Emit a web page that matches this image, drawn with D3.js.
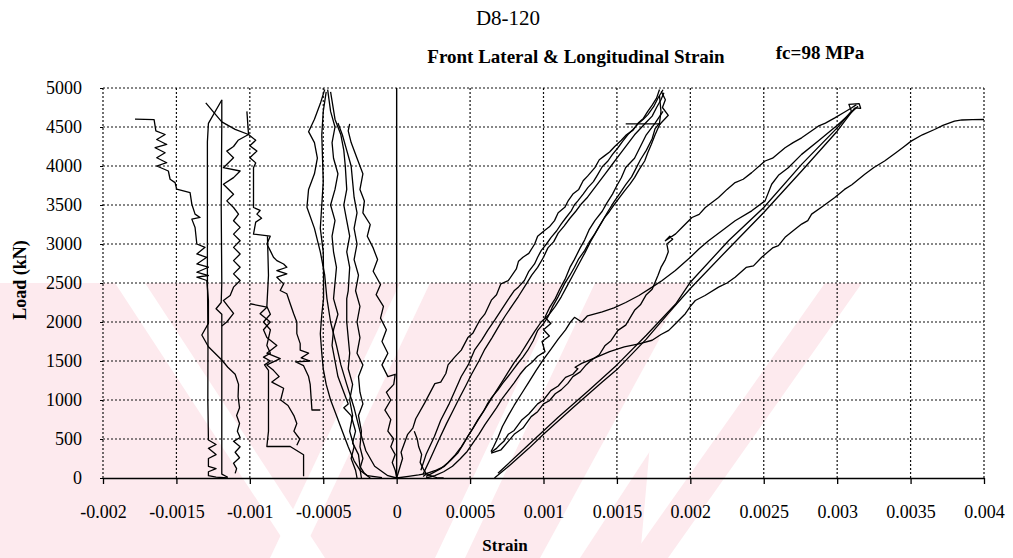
<!DOCTYPE html>
<html><head><meta charset="utf-8">
<script src="https://cdn.jsdelivr.net/npm/d3@7"></script>
<style>body{margin:0;background:#fff}svg{display:block}</style>
</head><body><svg id="c" width="1013" height="558"></svg>
<script>
// ---- axis ticks ----
const xTickValues = [-0.002,-0.0015,-0.001,-0.0005,0,0.0005,0.001,0.0015,0.002,0.0025,0.003,0.0035,0.004];
const xTickLabels = ["-0.002","-0.0015","-0.001","-0.0005","0","0.0005","0.001","0.0015","0.002","0.0025","0.003","0.0035","0.004"];
const yTickValues = [0,500,1000,1500,2000,2500,3000,3500,4000,4500,5000];

// ---- lateral strain traces: [microstrain, load kN] ----
const lat1 = [[-1782,4600],[-1652,4595],[-1640,4450],[-1577,4404],[-1634,4340],[-1566,4276],[-1645,4234],[-1577,4170],[-1634,4106],[-1566,4042],[-1634,4000],[-1555,3936],[-1543,3830],[-1509,3787],[-1498,3702],[-1407,3659],[-1395,3510],[-1373,3383],[-1339,3340],[-1395,3319],[-1373,3212],[-1361,3000],[-1305,2957],[-1361,2872],[-1293,2830],[-1361,2744],[-1282,2702],[-1361,2638],[-1282,2596],[-1361,2574],[-1293,2532],[-1282,2276],[-1282,1983],[-1327,1833],[-1282,1683],[-1191,1513],[-1150,1420],[-1100,1330],[-1077,1200],[-1080,1042],[-1070,900],[-1090,800],[-1070,700],[-1085,600],[-1066,520],[-1111,470],[-1066,400],[-1100,330],[-1070,260],[-1111,190],[-1090,120],[-1100,60]];
const lat2 = [[-1191,4850],[-1191,4560],[-1195,3500],[-1191,2500],[-1195,2250],[-1230,2170],[-1191,2100],[-1191,1513],[-1191,1000],[-1191,300],[-1191,50],[-1150,10]];
const lat3 = [[-1300,4810],[-1191,4566],[-1100,4470],[-1009,4404],[-1080,4330],[-1111,4250],[-1157,4191],[-1111,4106],[-1180,3978],[-1066,3936],[-1111,3851],[-1180,3766],[-1111,3638],[-1157,3553],[-1111,3468],[-1077,3383],[-1111,3298],[-1066,3213],[-1111,3127],[-1066,3042],[-1111,2957],[-1066,2872],[-1111,2787],[-1066,2702],[-1111,2617],[-1066,2532],[-1111,2447],[-1134,2340],[-1180,2276],[-1111,2110],[-1157,2000],[-1191,1950]];
const lat4 = [[-1191,4846],[-1282,4547],[-1289,4311],[-1289,2600],[-1285,1800],[-1286,1000],[-1282,487],[-1230,430],[-1282,380],[-1230,300],[-1282,250],[-1282,150],[-1230,120],[-1282,80],[-1282,30],[-1230,10],[-1150,0]];
const lat5 = [[-1020,4700],[-1009,4404],[-960,4330],[-1000,4260],[-952,4191],[-1000,4106],[-960,4040],[-975,3978],[-975,3600],[-975,3468],[-930,3430],[-952,3383],[-920,3330],[-960,3280],[-975,3127],[-861,3100],[-884,3000],[-861,2915],[-839,2830],[-816,2787],[-770,2744],[-748,2702],[-816,2660],[-748,2617],[-816,2574],[-770,2489],[-793,2404],[-748,2362],[-725,2234],[-702,2110],[-680,2000],[-680,1851],[-657,1723],[-657,1640],[-600,1600],[-650,1540],[-589,1500],[-690,1490],[-634,1440],[-600,1300],[-589,1200],[-577,872],[-520,872]];
const lat6 = [[-880,3100],[-873,2600],[-884,2200],[-860,2100],[-907,2000],[-860,1900],[-884,1700],[-860,1600],[-907,1550],[-860,1500],[-900,1450],[-873,1380],[-873,1000],[-873,600],[-884,404],[-725,404],[-634,298],[-634,21]];
const lat7 = [[-998,2234],[-884,2190],[-930,2106],[-861,2000],[-907,1900],[-884,1800],[-816,1700],[-884,1600],[-793,1530],[-884,1450],[-839,1380],[-800,1300],[-850,1230],[-770,1150],[-790,1000],[-740,930],[-700,800],[-680,700],[-700,600],[-660,500],[-680,420]];
const lat8 = [[-490,4980],[-520,4800],[-560,4600],[-600,4440],[-560,4300],[-540,4100],[-560,3900],[-600,3700],[-611,3470],[-560,3200],[-520,2900],[-490,2600],[-475,2300],[-450,2000],[-410,1700],[-380,1450],[-340,1200],[-290,900],[-250,600],[-210,350],[-150,150],[-60,30],[0,0]];
const lat9 = [[-480,4950],[-500,4700],[-510,4400],[-505,4100],[-500,3800],[-510,3500],[-520,3200],[-500,2900],[-498,2600],[-498,2300],[-510,2100],[-520,1850],[-510,1600],[-500,1400],[-480,1200],[-450,1000],[-410,800],[-370,600],[-330,400],[-290,220],[-250,100],[-200,30],[-100,5]];
const lat10 = [[-470,4980],[-450,4700],[-420,4500],[-440,4300],[-430,4100],[-400,3900],[-420,3700],[-450,3500],[-420,3300],[-440,3100],[-430,2900],[-410,2700],[-420,2500],[-430,2300],[-400,2100],[-430,1900],[-440,1700],[-420,1500],[-400,1300],[-360,1100],[-330,950],[-360,900],[-310,800],[-280,600],[-300,450],[-260,300],[-250,150],[-220,60],[-180,0]];
const lat11 = [[-450,4950],[-420,4600],[-380,4400],[-360,4200],[-350,4000],[-340,3700],[-360,3500],[-340,3300],[-320,3100],[-340,2900],[-320,2700],[-330,2400],[-340,2300],[-340,2000],[-330,1800],[-320,1600],[-330,1400],[-300,1200],[-320,1000],[-300,800],[-320,600],[-290,400],[-310,250],[-280,100],[-270,0]];
const lat12 = [[-400,4550],[-370,4400],[-340,4200],[-310,4000],[-300,3800],[-290,3600],[-270,3400],[-290,3200],[-270,3000],[-290,2800],[-260,2600],[-280,2400],[-250,2200],[-270,2000],[-250,1800],[-270,1600],[-230,1450],[-260,1300],[-250,1100],[-230,950],[-260,800],[-240,600],[-250,400],[-230,250],[-250,120],[-240,0]];
const lat13 = [[-320,4540],[-330,4450],[-310,4300],[-270,4100],[-230,3900],[-250,3700],[-220,3550],[-230,3400],[-180,3250],[-200,3100],[-160,2950],[-130,2800],[-160,2650],[-110,2480],[-140,2350],[-90,2200],[-110,2050],[-70,1900],[-100,1750],[-60,1600],[-100,1450],[-60,1300],[-10,1330],[-20,1200],[-70,1100],[-40,1000],[-80,870],[-40,750],[-60,600],[-20,500],[-40,400],[-10,300],[-30,200],[-10,100],[0,0]];

// ---- longitudinal strain traces: [microstrain, load kN] ----
const lon1 = [[0,0],[40,250],[30,330],[75,560],[110,640],[130,760],[190,960],[215,1050],[260,1210],[300,1230],[335,1340],[350,1450],[395,1550],[440,1640],[485,1800],[520,1860],[565,2020],[600,2100],[645,2280],[680,2350],[710,2490],[760,2530],[815,2680],[830,2780],[860,2830],[900,2880],[940,3000],[960,3100],[1005,3170],[1040,3220],[1075,3300],[1100,3400],[1145,3470],[1170,3560],[1200,3640],[1240,3700],[1270,3810],[1300,3870],[1350,3980],[1380,4080],[1415,4130],[1450,4180],[1485,4250],[1530,4330],[1565,4400],[1610,4460],[1645,4550],[1680,4610],[1710,4700],[1740,4780],[1770,4870],[1790,4980]];
const lon2 = [[165,100],[200,300],[257,532],[300,740],[359,957],[400,1130],[439,1298],[490,1460],[530,1638],[580,1770],[620,1893],[670,2030],[711,2149],[760,2290],[802,2404],[830,2450],[870,2532],[900,2650],[939,2744],[960,2830],[984,2915],[1020,3000],[1052,3085],[1090,3170],[1120,3255],[1150,3330],[1189,3425],[1210,3500],[1234,3553],[1270,3640],[1302,3723],[1340,3800],[1370,3893],[1400,3990],[1439,4064],[1470,4150],[1507,4234],[1540,4320],[1575,4404],[1610,4470],[1643,4540],[1680,4600],[1711,4659],[1750,4760],[1780,4872],[1814,4978]];
const lon3 = [[180,50],[230,250],[290,500],[340,700],[380,850],[420,1000],[470,1180],[510,1330],[560,1500],[600,1650],[650,1800],[700,1960],[740,2080],[790,2220],[830,2330],[880,2480],[920,2600],[960,2700],[1000,2830],[1030,2950],[1070,3030],[1100,3140],[1140,3230],[1180,3330],[1220,3420],[1260,3520],[1300,3600],[1340,3700],[1380,3800],[1420,3900],[1460,4000],[1500,4100],[1540,4200],[1580,4300],[1620,4400],[1660,4480],[1700,4560],[1740,4640],[1770,4750],[1800,4850],[1820,4940]];
const lon4 = [[1802,4957],[1830,4850],[1810,4750],[1850,4650],[1791,4532],[1760,4400],[1734,4276],[1710,4170],[1689,4064],[1650,3950],[1620,3851],[1590,3770],[1552,3681],[1520,3600],[1484,3510],[1450,3420],[1416,3340],[1380,3230],[1348,3127],[1310,3020],[1280,2915],[1240,2810],[1211,2702],[1180,2600],[1143,2489],[1120,2400],[1098,2319],[1060,2190],[1030,2064],[1000,1980],[961,1893],[930,1760],[893,1638],[860,1550],[825,1468],[790,1380],[757,1298],[720,1210],[689,1128],[650,1040],[620,957],[590,850],[552,745],[520,640],[484,532],[450,420],[416,319],[370,230],[325,149],[270,100],[211,64],[180,20]];
const lon5 = [[1790,4900],[1800,4700],[1790,4550],[1760,4480],[1740,4350],[1700,4200],[1660,4080],[1630,3970],[1600,3860],[1560,3760],[1520,3650],[1480,3540],[1440,3420],[1400,3290],[1360,3160],[1320,3030],[1280,2880],[1240,2740],[1200,2600],[1160,2460],[1120,2320],[1080,2200],[1040,2100],[984,2000],[940,1880],[900,1760],[880,1700],[840,1580],[800,1480],[760,1360],[720,1240],[680,1120],[640,1000],[600,880],[560,760],[520,640],[480,520],[440,400],[400,300],[350,200],[300,120],[240,60],[200,20]];
const lon6 = [[1814,4700],[1760,4550],[1700,4400],[1660,4250],[1620,4100],[1560,3980],[1530,3850],[1500,3750],[1470,3640],[1430,3520],[1400,3420],[1350,3300],[1310,3180],[1280,3050],[1250,2950],[1210,2800],[1180,2700],[1150,2560],[1110,2420],[1080,2300],[1040,2180],[1010,2060],[1050,1980],[1000,1900],[1040,1820],[990,1750],[1010,1620],[960,1560],[920,1480],[880,1420],[840,1330],[800,1220],[760,1120],[720,1020],[680,900],[640,790],[600,680],[560,560],[520,450],[480,340],[430,240],[380,150],[320,80],[260,30],[200,0]];
const lon7 = [[643,319],[711,362],[760,470],[800,560],[860,640],[916,787],[960,850],[1000,950],[1040,990],[1080,1080],[1120,1130],[1166,1213],[1200,1300],[1250,1360],[1290,1450],[1325,1510],[1380,1580],[1420,1700],[1460,1760],[1507,1893],[1560,1960],[1620,2150],[1660,2220],[1700,2350],[1740,2420],[1780,2600],[1800,2700],[1830,2800],[1850,2900],[1840,3000],[1880,3060],[1860,3100],[1830,3042],[1900,3130],[1943,3212],[2011,3340],[2060,3380],[2102,3468],[2192,3595],[2250,3700],[2305,3787],[2360,3830],[2418,3915],[2509,4064],[2560,4100],[2645,4234],[2700,4300],[2758,4361],[2871,4510],[2920,4550],[2984,4617],[3040,4680],[3097,4744],[3131,4787]];
const lon8 = [[3142,4766],[3007,4532],[2871,4319],[2758,4149],[2667,3978],[2600,3880],[2554,3766],[2509,3553],[2418,3425],[2305,3298],[2215,3170],[2124,3042],[2060,2940],[2000,2830],[1898,2659],[1808,2532],[1740,2447],[1650,2340],[1560,2250],[1480,2180],[1400,2130],[1300,2080],[1260,2000],[1211,2060],[1180,1990],[1150,1900],[1100,1780],[1050,1650],[1000,1520],[950,1380],[900,1230],[850,1080],[800,930],[760,800],[720,660],[690,520],[660,400],[643,340]];
const lon9 = [[666,0],[750,130],[900,380],[1000,560],[1200,900],[1400,1230],[1500,1390],[1700,1780],[1850,2110],[2000,2430],[2260,2940],[2500,3404],[2758,3936],[3000,4446],[3120,4744]];
const lon10 = [[690,60],[900,430],[1100,780],[1300,1110],[1500,1450],[1700,1830],[1900,2230],[2000,2510],[2260,3042],[2500,3468],[2758,4021],[3000,4489],[3097,4702],[3080,4790],[3150,4800],[3160,4740],[3120,4744]];
const lon11 = [[643,330],[680,380],[700,420],[730,470],[760,560],[800,610],[850,740],[900,820],[960,950],[1000,1000],[1050,1120],[1100,1180],[1150,1290],[1200,1330],[1234,1400],[1215,1420],[1260,1470],[1350,1540],[1450,1620],[1550,1680],[1650,1720],[1740,1766],[1800,1840],[1853,1893],[1900,1980],[1966,2106],[2000,2200],[2034,2276],[2100,2340],[2192,2447],[2250,2500],[2305,2574],[2380,2700],[2430,2720],[2486,2830],[2560,2950],[2600,2980],[2645,3085],[2700,3170],[2758,3255],[2800,3300],[2826,3383],[2900,3480],[2984,3595],[3050,3700],[3100,3760],[3188,3893],[3250,3980],[3323,4064],[3400,4170],[3450,4240],[3504,4319],[3580,4400],[3663,4468],[3720,4520],[3799,4574],[3850,4590],[3920,4594],[4000,4596]];
const lon12 = [[120,600],[140,500],[150,400],[170,300],[160,200],[180,120],[200,60],[230,30],[280,0],[320,0]];
const lon13 = [[0,0],[80,20],[150,40],[210,60]];
const lon14 = [[1560,4540],[1800,4540]];

const lateral = [lat1,lat2,lat3,lat4,lat5,lat6,lat7,lat8,lat9,lat10,lat11,lat12,lat13];
const longitudinal = [lon1,lon2,lon3,lon4,lon5,lon6,lon7,lon8,lon9,lon10,lon11,lon12,lon13,lon14];

// ---- drawing ----
const svg = d3.select("#c");
const serif = "'Liberation Serif','Times New Roman',serif";
const x = d3.scaleLinear().domain([-0.002,0.004]).range([103,984]);
const y = d3.scaleLinear().domain([0,5000]).range([478,88]);

// faint background watermark (scan artefact)
const wm = svg.append("g");
wm.append("polygon").attr("points","0,283 690,283 660,330 640,558 0,558").attr("fill","#fdeaee");
[[115,283,145,283,325,558,295,558],[400,283,430,283,300,558,270,558],[565,283,595,283,465,558,435,558],[690,283,760,283,580,558,540,558]]
  .forEach(p=>wm.append("polygon").attr("points",p.join(",")).attr("fill","#fff"));
wm.append("polygon").attr("points","825,283 862,283 668,558 631,558").attr("fill","#fdeaee");

const grid = svg.append("g").attr("stroke","#111").attr("stroke-width",1.2).attr("stroke-dasharray","2,2");
xTickValues.filter(v=>v!==0).forEach(v=>{
  grid.append("line").attr("x1",x(v)).attr("x2",x(v)).attr("y1",y(0)).attr("y2",y(5000));
});
yTickValues.filter(v=>v>0).forEach(v=>{
  grid.append("line").attr("x1",x(-0.002)).attr("x2",x(0.004)).attr("y1",y(v)).attr("y2",y(v));
});
// zero strain line
svg.append("line").attr("x1",x(0)).attr("x2",x(0)).attr("y1",y(0)).attr("y2",y(5000))
  .attr("stroke","#000").attr("stroke-width",1.4);

const line = d3.line().x(d=>x(d[0]*1e-6)).y(d=>y(d[1]));
const traces = svg.append("g").attr("fill","none").attr("stroke","#000").attr("stroke-width",1.3).attr("stroke-linejoin","round");
lateral.concat(longitudinal).forEach(s=>traces.append("path").attr("d",line(s)));

// bottom axis
const xa = svg.append("g").attr("transform",`translate(0,${y(0)})`)
  .call(d3.axisBottom(x).tickValues(xTickValues).tickFormat((d,i)=>xTickLabels[i]).tickSize(6).tickSizeOuter(0).tickPadding(21));
xa.select(".domain").attr("stroke","#000").attr("stroke-width",1.6);
xa.selectAll(".tick line").attr("stroke","#000").attr("stroke-width",1.3);
xa.selectAll("text").attr("font-family",serif).attr("font-size",18).attr("fill","#000");

// left axis
const ya = svg.append("g").attr("transform",`translate(${x(-0.002)},0)`)
  .call(d3.axisLeft(y).tickValues(yTickValues).tickFormat(d3.format("d")).tickSize(3).tickSizeOuter(0).tickPadding(18));
ya.select(".domain").remove();
ya.selectAll(".tick line").attr("stroke","#000");
ya.selectAll("text").attr("font-family",serif).attr("font-size",18).attr("fill","#000");

// titles
svg.append("text").attr("x",508).attr("y",25).attr("text-anchor","middle")
  .attr("font-family",serif).attr("font-size",21).text("D8-120");
svg.append("text").attr("x",576).attr("y",63).attr("text-anchor","middle")
  .attr("font-family",serif).attr("font-size",19).attr("font-weight","bold").text("Front Lateral & Longitudinal Strain");
svg.append("text").attr("x",820).attr("y",59).attr("text-anchor","middle")
  .attr("font-family",serif).attr("font-size",19).attr("font-weight","bold").text("fc=98 MPa");
svg.append("text").attr("x",505).attr("y",551).attr("text-anchor","middle")
  .attr("font-family",serif).attr("font-size",17).attr("font-weight","bold").text("Strain");
svg.append("text").attr("transform","translate(26,280) rotate(-90)").attr("text-anchor","middle")
  .attr("font-family",serif).attr("font-size",18).attr("font-weight","bold").text("Load  (kN)");
</script></body></html>
